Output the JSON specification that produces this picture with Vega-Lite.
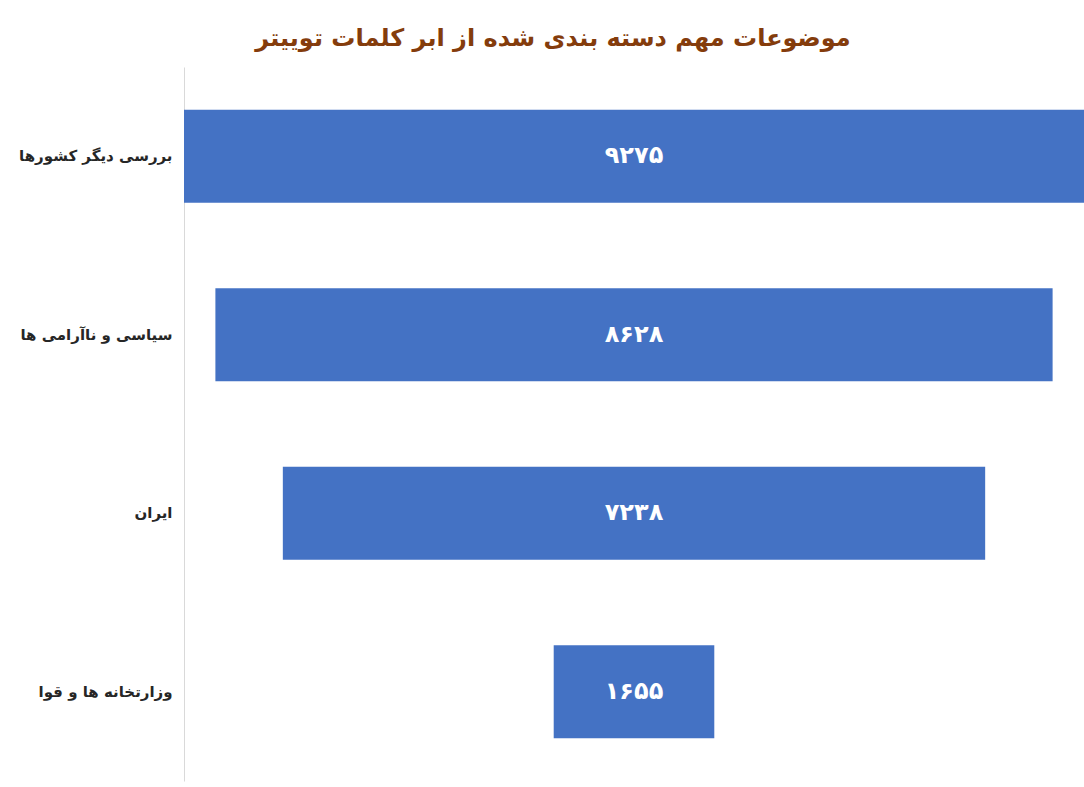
{
  "$schema": "https://vega.github.io/schema/vega-lite/v6.json",
  "autosize": {"type": "none"},
  "padding": {"left": 184, "top": 67, "right": 0, "bottom": 6},
  "width": 900,
  "height": 714,
  "background": "#ffffff",
  "title": {
    "text": "موضوعات مهم دسته بندی شده از ابر کلمات توییتر",
    "font": "DejaVu Sans",
    "fontSize": 24,
    "fontWeight": "bold",
    "color": "#843C0C",
    "anchor": "middle",
    "frame": "group",
    "dx": -81,
    "offset": 16
  },
  "data": {
    "values": [
      {"topic": "بررسی دیگر کشورها", "value": 9275, "label": "۹۲۷۵"},
      {"topic": "سیاسی و ناآرامی ها", "value": 8628, "label": "۸۶۲۸"},
      {"topic": "ایران", "value": 7238, "label": "۷۲۳۸"},
      {"topic": "وزارتخانه ها و قوا", "value": 1655, "label": "۱۶۵۵"}
    ]
  },
  "encoding": {
    "y": {
      "field": "topic",
      "type": "nominal",
      "sort": null,
      "scale": {"paddingInner": 0.48, "paddingOuter": 0.24},
      "axis": {
        "title": null,
        "ticks": false,
        "labelPadding": 12,
        "labelFont": "DejaVu Sans",
        "labelFontSize": 15,
        "labelFontWeight": "bold",
        "labelColor": "#262626",
        "domainColor": "#D9D9D9",
        "domainWidth": 1
      }
    }
  },
  "layer": [
    {
      "mark": {"type": "bar", "color": "#4472C4"},
      "encoding": {
        "x": {
          "field": "value",
          "type": "quantitative",
          "stack": "center",
          "scale": {"domain": [0, 9275], "nice": false, "zero": true},
          "axis": null
        }
      }
    },
    {
      "mark": {
        "type": "text",
        "color": "#ffffff",
        "font": "DejaVu Sans",
        "fontSize": 24,
        "fontWeight": "bold",
        "align": "center",
        "baseline": "middle"
      },
      "encoding": {
        "x": {
          "field": "value",
          "type": "quantitative",
          "stack": "center",
          "bandPosition": 0.5
        },
        "text": {"field": "label"}
      }
    }
  ],
  "config": {"view": {"stroke": null}}
}
